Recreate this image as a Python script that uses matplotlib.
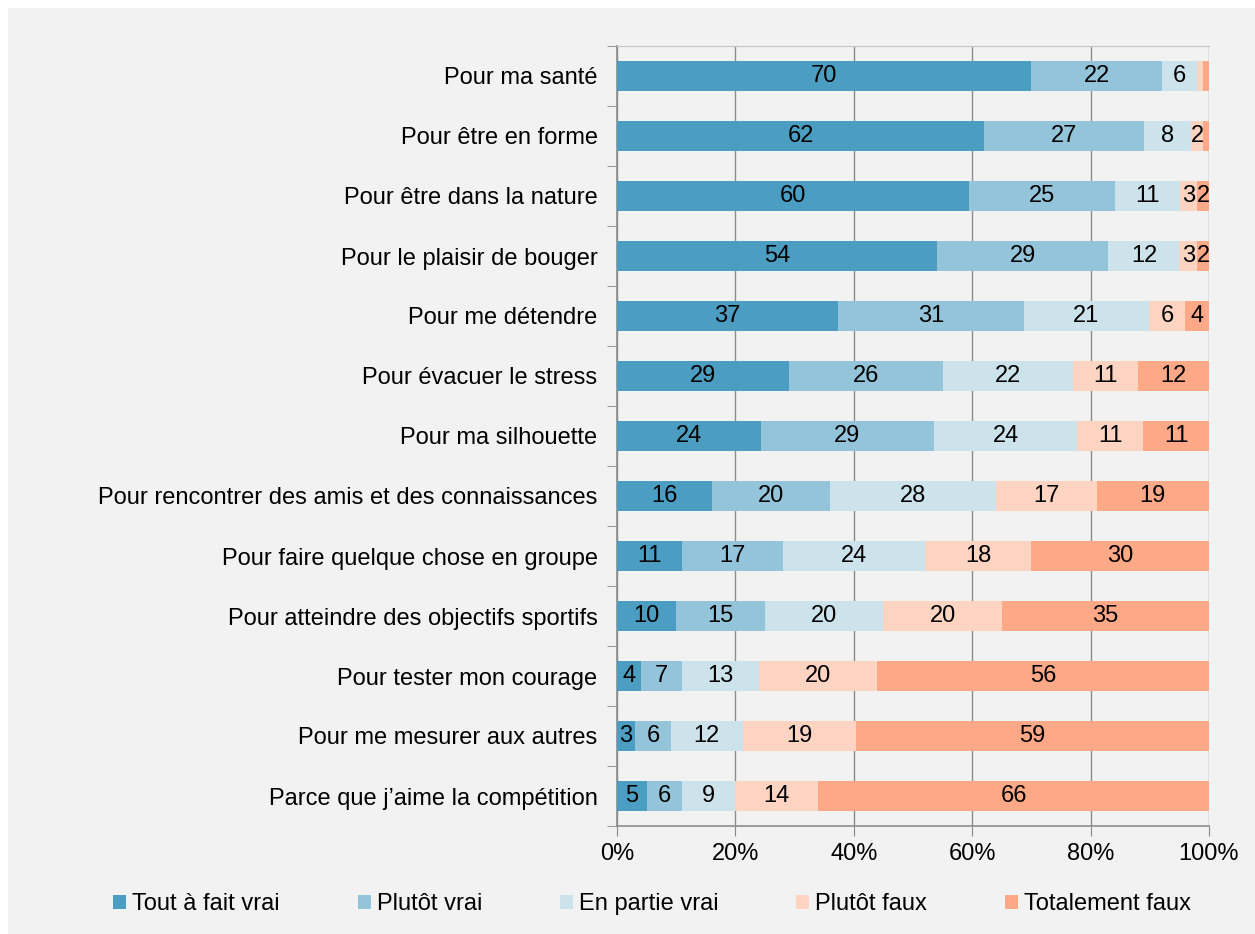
import matplotlib.pyplot as plt
import numpy as np
from matplotlib.patches import Rectangle

plt.rcParams['font.family'] = ['Liberation Sans', 'DejaVu Sans']

motifs = ["Pour ma santé", "Pour être en forme", "Pour être dans la nature",
          "Pour le plaisir de bouger", "Pour me détendre", "Pour évacuer le stress",
          "Pour ma silhouette", "Pour rencontrer des amis et des connaissances",
          "Pour faire quelque chose en groupe", "Pour atteindre des objectifs sportifs",
          "Pour tester mon courage", "Pour me mesurer aux autres",
          "Parce que j\u2019aime la compétition"]

tout_a_fait_vrai = [70, 62, 60, 54, 37, 29, 24, 16, 11, 10, 4, 3, 5]
plutot_vrai      = [22, 27, 25, 29, 31, 26, 29, 20, 17, 15, 7, 6, 6]
en_partie_vrai   = [6, 8, 11, 12, 21, 22, 24, 28, 24, 20, 13, 12, 9]
plutot_faux      = [1, 2, 3, 3, 6, 11, 11, 17, 18, 20, 20, 19, 14]
totalement_faux  = [1, 1, 2, 2, 4, 12, 11, 19, 30, 35, 56, 59, 66]

series = ["Tout à fait vrai", "Plutôt vrai", "En partie vrai", "Plutôt faux", "Totalement faux"]
couleurs = ["#4c9dc2", "#93c4da", "#cde3ec", "#fdd3c2", "#fda887"]

valeurs = np.array([tout_a_fait_vrai, plutot_vrai, en_partie_vrai, plutot_faux, totalement_faux], dtype=float)
parts = valeurs / valeurs.sum(axis=0)

taille = 17

W, H = 1255, 934
fig = plt.figure(figsize=(W / 100, H / 100), dpi=100, facecolor="white")
fig.patches.append(Rectangle((8 / W, 0), 1 - 8 / W, 1 - 8 / H, transform=fig.transFigure,
                             facecolor="#f2f2f2", edgecolor="none", zorder=-10))
ax = fig.add_axes([617 / W, 1 - 826 / H, (1209 - 617) / W, (826 - 46) / H])
ax.set_facecolor("#f2f2f2")

y = np.arange(len(motifs))
gauche = np.zeros(len(motifs))
for k in range(len(series)):
    ax.barh(y, parts[k], left=gauche, height=0.5, color=couleurs[k], label=series[k], zorder=3)
    for i in range(len(motifs)):
        if valeurs[k, i] > 1:
            ax.text(gauche[i] + parts[k, i] / 2, y[i], "%d" % valeurs[k, i],
                    ha="center", va="center", fontsize=taille, color="black", zorder=4)
    gauche += parts[k]

ax.set_xlim(0, 1)
ax.set_ylim(len(motifs) - 0.5, -0.5)
ax.set_xticks(np.arange(0, 1.01, 0.2))
ax.set_xticklabels(["%d%%" % round(v * 100) for v in np.arange(0, 1.01, 0.2)], fontsize=taille)
ax.set_yticks(y)
ax.set_yticklabels(motifs, fontsize=taille)
ax.set_yticks(np.arange(-0.5, len(motifs), 1), minor=True)
ax.tick_params(axis="y", which="major", length=0, pad=14)
ax.tick_params(axis="y", which="minor", length=7, color="#888888", direction="out")
ax.tick_params(axis="x", length=7, color="#888888", direction="out", pad=5)
ax.grid(axis="x", color="#8c8c8c", linewidth=1, zorder=0)
ax.set_axisbelow(True)

for s in ["left", "bottom"]:
    ax.spines[s].set_color("#8c8c8c")
    ax.spines[s].set_linewidth(1.2)
ax.spines["top"].set_color("#c4c4c4")
ax.spines["right"].set_visible(False)

fig.legend(loc="center", bbox_to_anchor=(652 / W, 1 - 904 / H), ncol=5, frameon=False,
           fontsize=taille, handlelength=0.55, handleheight=0.55, handletextpad=0.25,
           columnspacing=3.3)

fig.savefig("out.png", dpi=100, facecolor=fig.get_facecolor())
